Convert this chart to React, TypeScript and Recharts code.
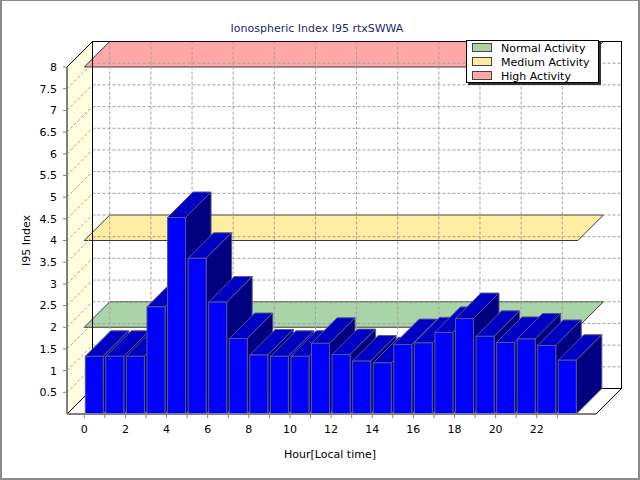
import React from "react";
import {
  ComposedChart,
  Bar,
  XAxis,
  YAxis,
  CartesianGrid,
  ReferenceArea,
  ReferenceLine,
  Legend,
} from "recharts";

// hourly I95 index, local time
const hours = [
  0, 1, 2, 3, 4, 5, 6, 7, 8, 9, 10, 11, 12, 13, 14, 15, 16, 17, 18, 19, 20, 21,
  22, 23,
];
const i95 = [
  1.33, 1.33, 1.33, 2.47, 4.53, 3.59, 2.58, 1.74, 1.36, 1.33, 1.33, 1.63, 1.37,
  1.22, 1.18, 1.6, 1.64, 1.88, 2.2, 1.79, 1.65, 1.73, 1.58, 1.24,
];
const yTicks = [
  0.5, 1, 1.5, 2, 2.5, 3, 3.5, 4, 4.5, 5, 5.5, 6, 6.5, 7, 7.5, 8,
];

// activity thresholds
const bandNames = ["Normal Activity", "Medium Activity", "High Activity"];
const bandLevels = [2, 4, 8];

const bandFill: Record<string, string> = {
  "Normal Activity": "#a8d4a8",
  "Medium Activity": "#ffeea2",
  "High Activity": "#ffa6a6",
};

const data = hours.map((h, i) => ({ hour: h + 0.5, value: i95[i] }));

const DEPTH = 25.5;
const X_DOMAIN: [number, number] = [-0.84, 24.88];
const FONT = "'DejaVu Sans', Verdana, sans-serif";
const GRID = { stroke: "#a0a0a0", strokeDasharray: "3 2", strokeWidth: 1 };

function Walls(props: any) {
  const { x, y, width, height } = props;
  const d = DEPTH;
  const l = x;
  const r = x + width;
  const t = y;
  const b = y + height;
  return (
    <g>
      <polygon
        points={`${l},${b} ${l},${t} ${l + d},${t - d} ${l + d},${b - d}`}
        fill="#ffffe0"
      />
      <rect x={l + d} y={t - d} width={width} height={height} fill="#fff" />
      <polygon
        points={`${l},${b} ${r},${b} ${r + d},${b - d} ${l + d},${b - d}`}
        fill="#fff"
      />
    </g>
  );
}

function WallEdges(props: any) {
  const { x, y, width, height } = props;
  const d = DEPTH;
  const l = x;
  const r = x + width;
  const t = y;
  const b = y + height;
  const st = { stroke: "#000", strokeWidth: 1, fill: "none" };
  return (
    <g>
      <line x1={l} y1={t} x2={l} y2={b} {...st} />
      <line x1={l} y1={t} x2={l + d} y2={t - d} {...st} />
      <line x1={l} y1={b} x2={l + d} y2={b - d} {...st} />
      <line x1={r} y1={b} x2={r + d} y2={b - d} {...st} />
      <rect x={l + d} y={t - d} width={width} height={height} {...st} />
    </g>
  );
}

function BandPlane(props: any, fill: string) {
  const { x1, y1, x2 } = props;
  const d = DEPTH;
  return (
    <polygon
      points={`${x1},${y1} ${x2},${y1} ${x2 + d},${y1 - d} ${x1 + d},${y1 - d}`}
      fill={fill}
      stroke="#3a3a3a"
      strokeWidth={1}
    />
  );
}

function Bar3D(props: any) {
  const { x, y, width, height } = props;
  if (!height) return <g />;
  const d = DEPTH;
  const r = x + width;
  const b = y + height;
  const st = { stroke: "#56568a", strokeWidth: 1 };
  return (
    <g>
      <polygon
        points={`${x},${y} ${x + d},${y - d} ${r + d},${y - d} ${r},${y}`}
        fill="#0000c4"
        {...st}
      />
      <polygon
        points={`${r},${y} ${r + d},${y - d} ${r + d},${b - d} ${r},${b}`}
        fill="#000080"
        {...st}
      />
      <rect x={x} y={y} width={width} height={height} fill="#0000ff" {...st} />
    </g>
  );
}

function HourTick(props: any) {
  const { x, y, payload } = props;
  if (payload.value % 2 !== 0) return <g />;
  return (
    <text x={x} y={y} dy="0.71em" textAnchor="middle" fontSize={11} fill="#000">
      {payload.value}
    </text>
  );
}

function LegendBox() {
  return (
    <div
      style={{
        position: "relative",
        width: 133,
        height: 43,
        boxSizing: "border-box",
        border: "1px solid #000",
        background: "#fff",
        boxShadow: "2px 2px 0 #333",
        fontFamily: FONT,
        fontSize: 11,
        color: "#000",
      }}
    >
      {bandNames.map((name, i) => (
        <div key={name}>
          <div
            style={{
              position: "absolute",
              left: 5,
              top: 2 + i * 14,
              width: 20,
              height: 9,
              boxSizing: "border-box",
              border: "1px solid #444",
              background: bandFill[name],
            }}
          />
          <div
            style={{
              position: "absolute",
              left: 34,
              top: 0.5 + i * 14,
              lineHeight: "14px",
              whiteSpace: "nowrap",
            }}
          >
            {name}
          </div>
        </div>
      ))}
    </div>
  );
}

export default function App() {
  return (
    <div
      style={{
        position: "absolute",
        left: 0,
        top: 0,
        width: 640,
        height: 480,
        background: "#fff",
        fontFamily: FONT,
      }}
    >
      <div
        style={{
          position: "absolute",
          top: 22,
          left: 0,
          width: 634,
          textAlign: "center",
          fontSize: 11,
          lineHeight: "13px",
          color: "#1f1f70",
        }}
      >
        Ionospheric Index I95 rtxSWWA
      </div>
      <ComposedChart
        width={640}
        height={480}
        data={data}
        margin={{ top: 67, right: 44, bottom: 36, left: 0 }}
      >
        <ReferenceArea
          x1={X_DOMAIN[0]}
          x2={X_DOMAIN[1]}
          y1={0}
          y2={8}
          ifOverflow="visible"
          shape={Walls}
          zIndex={-300}
        />
        {bandNames.map((name, i) => (
          <ReferenceLine
            key={name}
            segment={[
              { x: 0, y: bandLevels[i] },
              { x: 24, y: bandLevels[i] },
            ]}
            ifOverflow="visible"
            shape={(p: any) => BandPlane(p, bandFill[name])}
            zIndex={-250}
          />
        ))}
        <CartesianGrid
          zIndex={-200}
          horizontal={(p: any) => (
            <g key={`h-${p.index}`}>
              <line
                x1={p.x1 + DEPTH}
                y1={p.y1 - DEPTH}
                x2={p.x2 + DEPTH}
                y2={p.y1 - DEPTH}
                {...GRID}
              />
              <line
                x1={p.x1}
                y1={p.y1}
                x2={p.x1 + DEPTH}
                y2={p.y1 - DEPTH}
                {...GRID}
              />
            </g>
          )}
          vertical={(p: any) =>
            p.index % 2 === 0 ? (
              <line
                key={`v-${p.index}`}
                x1={p.x1 + DEPTH}
                y1={p.y1 - DEPTH}
                x2={p.x1 + DEPTH}
                y2={p.y2 - DEPTH}
                {...GRID}
              />
            ) : (
              <g key={`v-${p.index}`} />
            )
          }
        />
        <ReferenceArea
          x1={X_DOMAIN[0]}
          x2={X_DOMAIN[1]}
          y1={0}
          y2={8}
          ifOverflow="visible"
          shape={WallEdges}
          zIndex={-150}
        />
        <XAxis
          dataKey="hour"
          type="number"
          domain={X_DOMAIN}
          ticks={hours}
          interval={0}
          tick={<HourTick />}
          tickSize={4}
          tickMargin={7}
          tickLine={{ stroke: "#808080" }}
          axisLine={{ stroke: "#808080", strokeWidth: 2 }}
          height={30}
          label={(p: any) => (
            <text
              x={p.viewBox.x + p.viewBox.width / 2 - 1.5}
              y={p.viewBox.y + 40}
              textAnchor="middle"
              dominantBaseline="central"
              fontSize={11}
              fill="#000"
            >
              Hour[Local time]
            </text>
          )}
        />
        <YAxis
          domain={[0, 8]}
          ticks={yTicks}
          interval={0}
          width={67}
          tickSize={4}
          tickMargin={6}
          tick={{ fontSize: 11, fill: "#000" }}
          tickLine={{ stroke: "#808080" }}
          axisLine={{ stroke: "#808080", strokeWidth: 2 }}
          label={(p: any) => (
            <text
              x={p.viewBox.x + 26}
              y={p.viewBox.y + p.viewBox.height / 2}
              textAnchor="middle"
              dominantBaseline="central"
              fontSize={11}
              fill="#000"
              transform={`rotate(-90, ${p.viewBox.x + 26}, ${
                p.viewBox.y + p.viewBox.height / 2
              })`}
            >
              I95 Index
            </text>
          )}
        />
        <Bar
          dataKey="value"
          barSize={18}
          shape={Bar3D}
          isAnimationActive={false}
          zIndex={300}
        />
        <Legend
          layout="vertical"
          align="center"
          verticalAlign="middle"
          wrapperStyle={{ top: 40, left: 466, width: 134, height: 44 }}
          content={() => <LegendBox />}
        />
      </ComposedChart>
      <div
        style={{
          position: "absolute",
          left: 0,
          top: 0,
          width: 640,
          height: 480,
          boxSizing: "border-box",
          borderStyle: "solid",
          borderColor: "#8a8a8a",
          borderWidth: "1px 2px 2px 2px",
          pointerEvents: "none",
        }}
      />
    </div>
  );
}
